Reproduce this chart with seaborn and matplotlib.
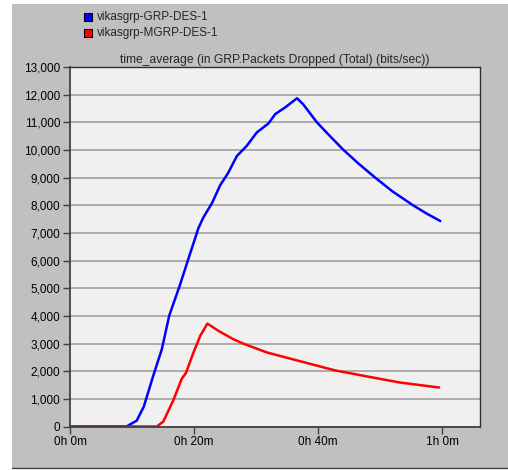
import matplotlib
matplotlib.use("Agg")
import matplotlib.pyplot as plt
import seaborn as sns
import pandas as pd
from matplotlib.patches import Rectangle
from matplotlib.ticker import FuncFormatter

# Data (time in minutes, value in bits/sec)
grp_time = [0, 5, 9.1, 10.75, 11.9, 13.4, 14.8, 16.0, 17.7, 19.2, 20.7, 21.5, 22.9, 24.2,
            25.5, 26.9, 28.5, 30.1, 32.0, 33.1, 34.7, 36.6, 37.6, 39.8, 42.0, 44.1, 46.5,
            49.2, 52.0, 55.3, 57.5, 59.7]
grp_vals = [0, 0, 0, 210, 720, 1820, 2790, 4010, 5100, 6140, 7170, 7560, 8080, 8720,
            9170, 9780, 10150, 10630, 10960, 11300, 11540, 11870, 11650, 11000, 10480, 10000,
            9510, 9000, 8500, 8000, 7700, 7430]
mgrp_time = [0, 5, 10, 14.0, 15.05, 16.7, 18.0, 18.7, 19.9, 21.0, 22.15, 24.0, 26.3, 27.9,
             31.7, 37.1, 42.7, 47.9, 53.2, 59.5]
mgrp_vals = [0, 0, 0, 0, 180, 970, 1720, 1940, 2670, 3280, 3720, 3450, 3160, 3000,
             2680, 2360, 2030, 1810, 1590, 1410]
series_names = ["vikasgrp-GRP-DES-1", "vikasgrp-MGRP-DES-1"]
x_ticks = [0, 20, 40, 60]
x_labels = ["0h 0m", "0h 20m", "0h 40m", "1h 0m"]
title = "time_average (in GRP.Packets Dropped (Total) (bits/sec))"

df = pd.concat([
    pd.DataFrame({"t": grp_time, "v": grp_vals, "s": series_names[0]}),
    pd.DataFrame({"t": mgrp_time, "v": mgrp_vals, "s": series_names[1]}),
])

sns.set_style("white")
plt.rcParams['font.family'] = ['Liberation Sans', 'DejaVu Sans']

W, H = 508, 470
fig = plt.figure(figsize=(W / 100, H / 100), dpi=100, facecolor="white")
fig.patches.append(Rectangle((12 / W, 2 / H), 1 - 12 / W, (468 - 4) / H,
                             transform=fig.transFigure, facecolor="#c0c0c0",
                             edgecolor="none", zorder=-10))
fig.lines.append(plt.Line2D([12 / W, 1], [2 / H, 2 / H], transform=fig.transFigure,
                            color="#404040", lw=1, zorder=-5))

ax = fig.add_axes([70 / W, 1 - 426.5 / H, (480 - 70) / W, (426.5 - 67) / H])
ax.set_zorder(5)
ax.set_facecolor("#f0f0f0")
sns.lineplot(data=df, x="t", y="v", hue="s", palette=["#0000ff", "#ff0000"],
             linewidth=1.8, ax=ax, legend=False, estimator=None, sort=False)
ax.set_xlim(0, 66.1)
ax.set_ylim(0, 13000)
ax.set_yticks(range(0, 13001, 1000))
ax.yaxis.set_major_formatter(FuncFormatter(lambda v, p: f"{int(v):,}"))
ax.set_xticks(x_ticks)
ax.set_xticklabels(x_labels)
ax.set_xlabel("")
ax.set_ylabel("")
ax.grid(axis="y", color="#a0a0a0", lw=1.2)
ax.grid(axis="x", visible=False)
ax.set_axisbelow(True)
ax.tick_params(axis="both", direction="out", length=5, width=1, color="#404040",
               labelsize=8.5, pad=2, labelcolor="black", bottom=True, left=True)
for side in ["left", "bottom"]:
    ax.spines[side].set_color("#404040")
    ax.spines[side].set_linewidth(1.3)
for side in ["top", "right"]:
    ax.spines[side].set_color("#303030")
    ax.spines[side].set_linewidth(1)
ax.set_title(title, fontsize=8.7, pad=3)

# legend squares
for i, (name, col) in enumerate(zip(series_names, ["#0000ff", "#ff0000"])):
    y = 1 - (17 + 16 * i) / H
    fig.patches.append(Rectangle((84 / W, y - 4 / H), 8 / W, 8 / H,
                                 transform=fig.transFigure, facecolor=col,
                                 edgecolor="black", lw=0.8))
    fig.text(97 / W, y, name, fontsize=8.5, va="center", ha="left")

fig.savefig("out.png", dpi=100, facecolor=fig.get_facecolor())
